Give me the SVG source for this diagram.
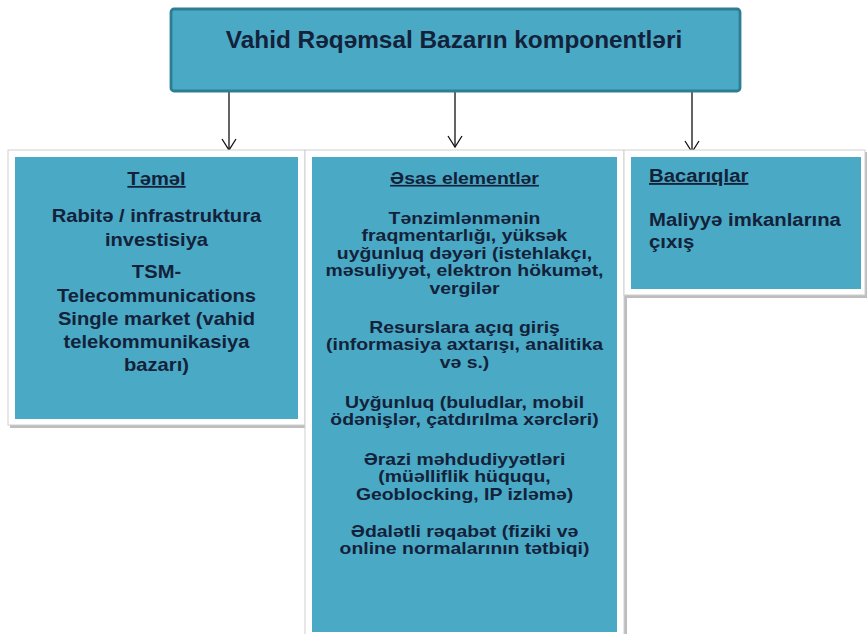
<svg xmlns="http://www.w3.org/2000/svg" width="867" height="634" viewBox="0 0 867 634">
<defs>
<style>
.frame{fill:#ffffff;stroke:#cfcfcf;stroke-width:1}
.shadow{fill:#bdbdbd}
.teal{fill:#4aa9c4}
.title{fill:#4aa9c4;stroke:#2e7e93;stroke-width:2.8}
text{font-family:"Liberation Sans",Arial,sans-serif;font-weight:bold;fill:#13223a}
.c{text-anchor:middle}
.u{text-decoration:underline}
.conn{stroke:#111111;stroke-width:1.3;fill:none}
</style>
<marker id="arr" markerUnits="userSpaceOnUse" markerWidth="20" markerHeight="20" refX="0" refY="0" orient="auto" overflow="visible">
<path d="M-11,-7 L0,0 L-11,7" fill="none" stroke="#111111" stroke-width="1.3"/>
</marker>
</defs>
<rect width="867" height="634" fill="#ffffff"/>

<g id="connectors">
<line class="conn" x1="229" y1="92" x2="229" y2="150" marker-end="url(#arr)"/>
<line class="conn" x1="455" y1="92" x2="455" y2="147" marker-end="url(#arr)"/>
<line class="conn" x1="692" y1="92" x2="692" y2="152" marker-end="url(#arr)"/>
</g>

<g id="top">
<rect class="title" x="171" y="9" width="569" height="82" rx="3"/>
<g transform="translate(454,0) scale(1.06,1)">
<text class="c" x="0" y="48" font-size="23">Vahid Rəqəmsal Bazarın komponentləri</text>
</g>
</g>

<g id="temel">
<rect class="shadow" x="10" y="152" width="297" height="276"/>
<rect class="frame" x="8" y="150" width="297" height="275"/>
<rect class="teal" x="15" y="157" width="283" height="262"/>
<g transform="translate(156.5,0) scale(1.12,1)" font-size="18">
<text class="c u" x="0" y="185">Təməl</text>
<text class="c" x="0" y="222">Rabitə / infrastruktura</text>
<text class="c" x="0" y="246">investisiya</text>
<text class="c" x="0" y="278">TSM-</text>
<text class="c" x="0" y="302">Telecommunications</text>
<text class="c" x="0" y="325">Single market (vahid</text>
<text class="c" x="0" y="348">telekommunikasiya</text>
<text class="c" x="0" y="371">bazarı)</text>
</g>
</g>

<g id="esas">
<rect class="shadow" x="307" y="152" width="320" height="484"/>
<rect class="frame" x="305" y="150" width="319" height="486"/>
<rect class="teal" x="312" y="157" width="305" height="475"/>
<g transform="translate(464.5,0) scale(1.19,1)" font-size="16.3">
<text class="c u" x="0" y="184">Əsas elementlər</text>
<text class="c" x="0" y="224">Tənzimlənmənin</text>
<text class="c" x="0" y="241.5">fraqmentarlığı, yüksək</text>
<text class="c" x="0" y="259">uyğunluq dəyəri (istehlakçı,</text>
<text class="c" x="0" y="276.5">məsuliyyət, elektron hökumət,</text>
<text class="c" x="0" y="294">vergilər</text>
<text class="c" x="0" y="333">Resurslara açıq giriş</text>
<text class="c" x="0" y="350.5">(informasiya axtarışı, analitika</text>
<text class="c" x="0" y="368">və s.)</text>
<text class="c" x="0" y="408">Uyğunluq (buludlar, mobil</text>
<text class="c" x="0" y="425.5">ödənişlər, çatdırılma xərcləri)</text>
<text class="c" x="0" y="465">Ərazi məhdudiyyətləri</text>
<text class="c" x="0" y="482.5">(müəlliflik hüququ,</text>
<text class="c" x="0" y="500">Geoblocking, IP izləmə)</text>
<text class="c" x="0" y="537">Ədalətli rəqabət (fiziki və</text>
<text class="c" x="0" y="554.5">online normalarının tətbiqi)</text>
</g>
</g>

<g id="bacariqlar">
<rect class="shadow" x="626" y="152" width="243" height="146"/>
<rect class="frame" x="624" y="150" width="241" height="145"/>
<rect class="teal" x="631" y="157" width="230" height="132"/>
<g transform="translate(649,0) scale(1.07,1)" font-size="19">
<text class="u" x="0" y="182">Bacarıqlar</text>
<text x="0" y="226">Maliyyə imkanlarına</text>
<text x="0" y="248">çıxış</text>
</g>
</g>
</svg>
